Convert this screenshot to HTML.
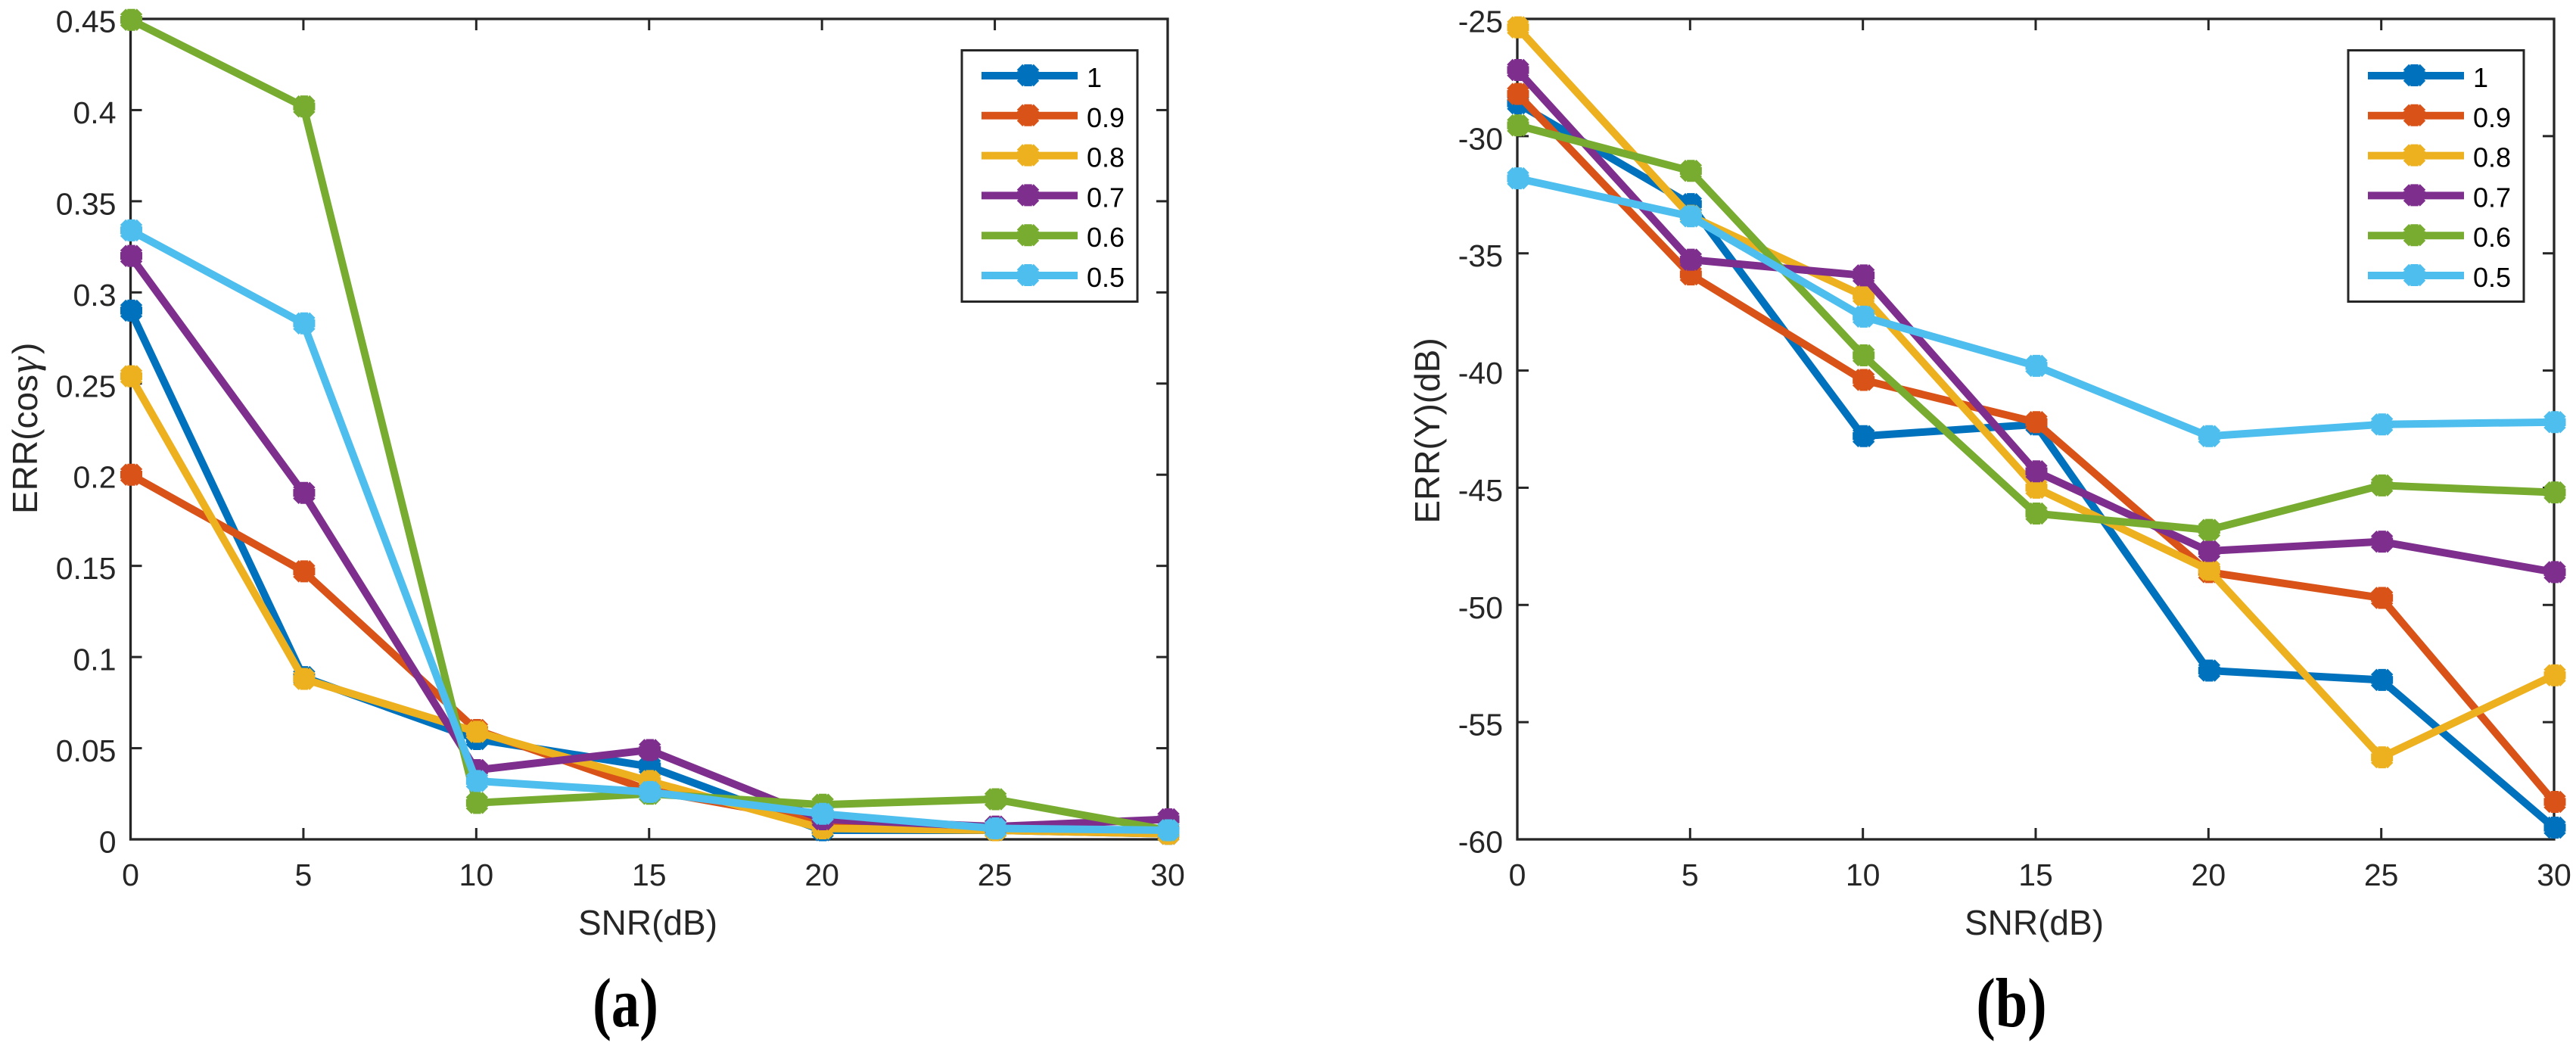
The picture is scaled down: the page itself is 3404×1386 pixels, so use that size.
<!DOCTYPE html>
<html>
<head>
<meta charset="utf-8">
<title>ERR vs SNR charts</title>
<style>
html,body{margin:0;padding:0;background:#fff;width:3404px;height:1386px;overflow:hidden}
svg{display:block}
text{font-family:"Liberation Sans",sans-serif;fill:#262626}
</style>
</head>
<body>
<svg id="figure" width="3404" height="1386" viewBox="0 0 3404 1386" xmlns="http://www.w3.org/2000/svg">
  <rect x="0" y="0" width="3404" height="1386" fill="#ffffff"/>
  <g id="panel-a"></g>
  <g id="panel-b"></g>
  <text x="856" y="1235" font-size="46" text-anchor="middle">SNR(dB)</text>
  <text x="2688" y="1235" font-size="46" text-anchor="middle">SNR(dB)</text>
  <text transform="translate(49 679) rotate(-90)" font-size="46">ERR(cos<tspan x="186" style="font-family:'Liberation Serif',serif;font-style:italic" font-size="54">γ</tspan><tspan x="211">)</tspan></text>
  <text transform="translate(1902 569) rotate(-90)" font-size="46" text-anchor="middle">ERR(Y)(dB)</text>
  <text transform="translate(826.5 1356) scale(0.81 1)" font-size="92" font-weight="bold" text-anchor="middle" style="font-family:'Liberation Serif',serif;fill:#000">(a)</text>
  <text transform="translate(2658 1356) scale(0.83 1)" font-size="92" font-weight="bold" text-anchor="middle" style="font-family:'Liberation Serif',serif;fill:#000">(b)</text>
</svg>
<script>
const snrValues = [0, 5, 10, 15, 20, 25, 30];
const xTickLabels = ['0', '5', '10', '15', '20', '25', '30'];
const seriesNames = ['1', '0.9', '0.8', '0.7', '0.6', '0.5'];

const cosTicks = [0, 0.05, 0.1, 0.15, 0.2, 0.25, 0.3, 0.35, 0.4, 0.45];
const cosTickLabels = ['0', '0.05', '0.1', '0.15', '0.2', '0.25', '0.3', '0.35', '0.4', '0.45'];
const cosSeries1 = [0.29, 0.089, 0.055, 0.04, 0.005, 0.005, 0.003];
const cosSeries09 = [0.2, 0.147, 0.06, 0.027, 0.01, 0.006, 0.004];
const cosSeries08 = [0.254, 0.088, 0.059, 0.032, 0.006, 0.005, 0.003];
const cosSeries07 = [0.32, 0.19, 0.038, 0.049, 0.011, 0.007, 0.011];
const cosSeries06 = [0.4495, 0.402, 0.02, 0.025, 0.019, 0.022, 0.005];
const cosSeries05 = [0.334, 0.283, 0.032, 0.026, 0.014, 0.006, 0.005];

const dbTicks = [-60, -55, -50, -45, -40, -35, -30, -25];
const dbTickLabels = ['-60', '-55', '-50', '-45', '-40', '-35', '-30', '-25'];
const dbSeries1 = [-28.6, -32.9, -42.8, -42.3, -52.8, -53.2, -59.5];
const dbSeries09 = [-28.2, -35.9, -40.4, -42.2, -48.6, -49.7, -58.4];
const dbSeries08 = [-25.36, -33.4, -36.8, -45, -48.5, -56.5, -53];
const dbSeries07 = [-27.18, -35.27, -35.94, -44.3, -47.7, -47.3, -48.6];
const dbSeries06 = [-29.54, -31.48, -39.35, -46.1, -46.8, -44.9, -45.2];
const dbSeries05 = [-31.8, -33.42, -37.7, -39.8, -42.8, -42.3, -42.2];

const palette = ['#0072BD', '#D95319', '#EDB120', '#7E2F8E', '#77AC30', '#4DBEEE'];
const NS = 'http://www.w3.org/2000/svg';
const AXIS_COLOR = '#262626';

function mk(parent, tag, attrs) {
  const el = document.createElementNS(NS, tag);
  for (const k in attrs) el.setAttribute(k, attrs[k]);
  parent.appendChild(el);
  return el;
}

function markerPath(cx, cy) {
  const a = 14.5, d = 11;
  return 'M' + (cx - a) + ' ' + cy + 'H' + (cx + a) +
         'M' + cx + ' ' + (cy - a) + 'V' + (cy + a) +
         'M' + (cx - d) + ' ' + (cy - d) + 'L' + (cx + d) + ' ' + (cy + d) +
         'M' + (cx - d) + ' ' + (cy + d) + 'L' + (cx + d) + ' ' + (cy - d);
}

function drawPanel(cfg) {
  const root = document.getElementById(cfg.id);
  const box = cfg.box;
  const xScale = v => box.left + (v - 0) / (30 - 0) * (box.right - box.left);
  const yScale = v => box.bottom - (v - cfg.yMin) / (cfg.yMax - cfg.yMin) * (box.bottom - box.top);

  const frame = mk(root, 'rect', {x: box.left, y: box.top, width: box.right - box.left, height: box.bottom - box.top, fill: 'none', stroke: AXIS_COLOR, 'stroke-width': 3.3});
  
  

  snrValues.forEach((v, i) => {
    const x = xScale(v);
    if (i > 0 && i < snrValues.length - 1) {
      const t1 = mk(root, 'line', {x1: x, x2: x, y1: box.bottom, y2: box.bottom - 15, stroke: AXIS_COLOR, 'stroke-width': 3});
      
      
      const t2 = mk(root, 'line', {x1: x, x2: x, y1: box.top, y2: box.top + 15, stroke: AXIS_COLOR, 'stroke-width': 3});
      
      
    }
    const lab = mk(root, 'text', {x: x, y: 1170, 'font-size': 41, 'text-anchor': 'middle'});
    lab.textContent = xTickLabels[i];
    
    
  });

  cfg.ticks.forEach((v, i) => {
    const y = yScale(v);
    if (i > 0 && i < cfg.ticks.length - 1) {
      const t1 = mk(root, 'line', {x1: box.left, x2: box.left + 15, y1: y, y2: y, stroke: AXIS_COLOR, 'stroke-width': 3});
      
      
      const t2 = mk(root, 'line', {x1: box.right, x2: box.right - 15, y1: y, y2: y, stroke: AXIS_COLOR, 'stroke-width': 3});
      
      
    }
    const lab = mk(root, 'text', {x: box.left - 19, y: y + 17.5, 'font-size': 41, 'text-anchor': 'end'});
    lab.textContent = cfg.tickLabels[i];
    
    
  });

  cfg.series.forEach((vals, s) => {
    const g = mk(root, 'g', {});
    
    
    const pts = vals.map((v, i) => xScale(snrValues[i]) + ',' + yScale(v)).join(' ');
    const line = mk(g, 'polyline', {points: pts, fill: 'none', stroke: palette[s], 'stroke-width': 10, 'stroke-linejoin': 'round'});
    
    
    vals.forEach((v, i) => {
      const m = mk(g, 'path', {d: markerPath(xScale(snrValues[i]) + 1, yScale(v)), fill: 'none', stroke: palette[s], 'stroke-width': 10.5});
      
      
    });
  });

  const legend = mk(root, 'g', {});
  
  
  const lx = cfg.legendX;
  const legendBox = mk(legend, 'rect', {x: lx, y: 66.5, width: 232, height: 332, fill: '#fff', stroke: AXIS_COLOR, 'stroke-width': 3});
  
  
  seriesNames.forEach((name, i) => {
    const cy = 100 + i * 52.8;
    const entry = mk(legend, 'g', {});
    
    
    const ln = mk(entry, 'line', {x1: lx + 26, x2: lx + 153, y1: cy, y2: cy, stroke: palette[i], 'stroke-width': 10});
    
    
    const mkr = mk(entry, 'path', {d: markerPath(lx + 87.5, cy - 0.5), fill: 'none', stroke: palette[i], 'stroke-width': 10.5});
    
    
    const tx = mk(entry, 'text', {x: lx + 165, y: cy + 15, 'font-size': 36, style: 'fill:#000'});
    tx.textContent = name;
    
    
  });
}

drawPanel({
  id: 'panel-a',
  box: {left: 172.5, right: 1543, top: 25, bottom: 1109},
  yMin: 0, yMax: 0.45,
  ticks: cosTicks, tickLabels: cosTickLabels,
  series: [cosSeries1, cosSeries09, cosSeries08, cosSeries07, cosSeries06, cosSeries05],
  legendX: 1271
});
drawPanel({
  id: 'panel-b',
  box: {left: 2005, right: 3375, top: 25, bottom: 1109},
  yMin: -60, yMax: -25,
  ticks: dbTicks, tickLabels: dbTickLabels,
  series: [dbSeries1, dbSeries09, dbSeries08, dbSeries07, dbSeries06, dbSeries05],
  legendX: 3103
});
</script>
</body>
</html>
